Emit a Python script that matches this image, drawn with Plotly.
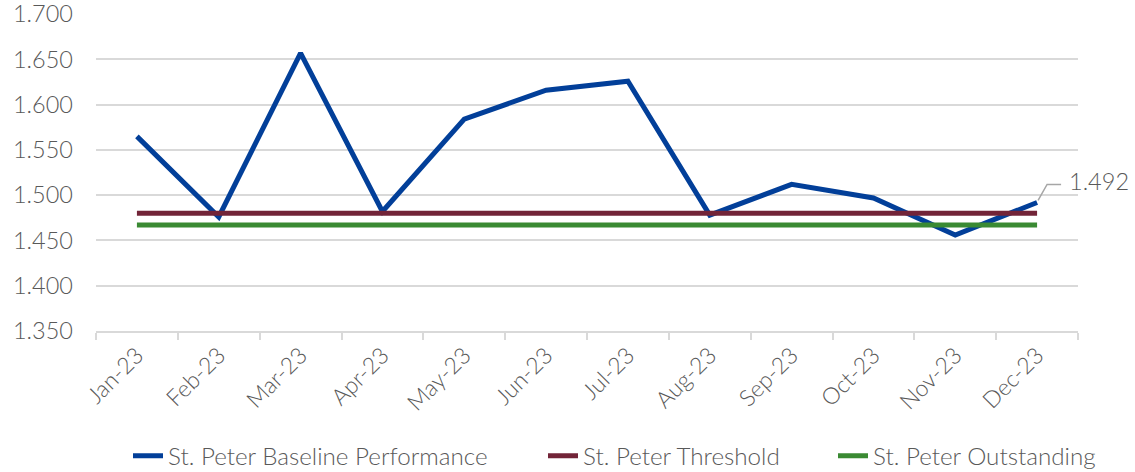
import plotly.graph_objects as go

months = ["Jan-23", "Feb-23", "Mar-23", "Apr-23", "May-23", "Jun-23",
          "Jul-23", "Aug-23", "Sep-23", "Oct-23", "Nov-23", "Dec-23"]
baseline = [1.565, 1.476, 1.657, 1.482, 1.584, 1.616, 1.626, 1.478, 1.512, 1.497, 1.456, 1.492]
threshold = [1.480] * 12
outstanding = [1.467] * 12
y_ticks = [1.35, 1.40, 1.45, 1.50, 1.55, 1.60, 1.65, 1.70]

FONT = "Lato"
GREY = "#595959"
W = 300
PLOT_L, PLOT_R = 96, 1078


def px_to_paper(px):
    return (px - PLOT_L) / (PLOT_R - PLOT_L)


fig = go.Figure()
fig.add_trace(go.Scatter(x=months, y=baseline, mode="lines", name="St. Peter Baseline Performance",
                         line=dict(color="#023f99", width=5), legend="legend"))
fig.add_trace(go.Scatter(x=months, y=threshold, mode="lines", name="St. Peter Threshold",
                         line=dict(color="#722438", width=5), legend="legend2"))
fig.add_trace(go.Scatter(x=months, y=outstanding, mode="lines", name="St. Peter Outstanding",
                         line=dict(color="#3a8a33", width=5), legend="legend3"))

# data label for the last point with elbow leader line
last_x = months[-1]
last_y = baseline[-1]
fig.add_shape(type="path", xref="x", yref="y", xsizemode="pixel", ysizemode="pixel",
              xanchor=last_x, yanchor=last_y,
              path="M 1 2 L 10 18 L 24 18", line=dict(color="#a6a6a6", width=1.5))
fig.add_annotation(x=last_x, y=last_y, text=f"{last_y:.3f}", showarrow=False,
                   xanchor="left", yanchor="middle", xshift=30, yshift=21,
                   font=dict(family=FONT, size=23.5, color=GREY, weight=W))

legend_font = dict(family=FONT, size=24.2, color=GREY, weight=W)
legend_common = dict(orientation="h", xanchor="left", y=-0.394, yanchor="middle",
                     font=legend_font, bgcolor="rgba(0,0,0,0)")

fig.update_layout(
    width=1135, height=472,
    margin=dict(l=PLOT_L, r=1135 - PLOT_R, t=14, b=141, autoexpand=False),
    plot_bgcolor="white", paper_bgcolor="white",
    font=dict(family=FONT, color=GREY, weight=W),
    showlegend=True,
    legend=dict(x=px_to_paper(128), **legend_common),
    legend2=dict(x=px_to_paper(543), **legend_common),
    legend3=dict(x=px_to_paper(833), **legend_common),
    xaxis=dict(type="category", range=[-0.5, 11.5], tickson="boundaries",
               ticks="outside", ticklen=7, tickcolor="#d9d9d9", tickwidth=1.5,
               showline=True, linecolor="#d9d9d9", linewidth=1.5,
               showgrid=False, tickangle=-45, automargin=False,
               tickfont=dict(family=FONT, size=23, color=GREY, weight=W)),
    yaxis=dict(range=[1.35, 1.7002], tickvals=y_ticks,
               ticktext=[f"{v:.3f}" for v in y_ticks],
               showgrid=True, gridcolor="#d9d9d9", gridwidth=1.5,
               zeroline=False, showline=False, ticks="", ticklabelstandoff=22,
               automargin=False, ticklabeloverflow="allow",
               tickfont=dict(family=FONT, size=23.5, color=GREY, weight=W)),
)

fig.write_html("out.html", config={"displayModeBar": False},
               post_script="document.body.style.margin='0';")
